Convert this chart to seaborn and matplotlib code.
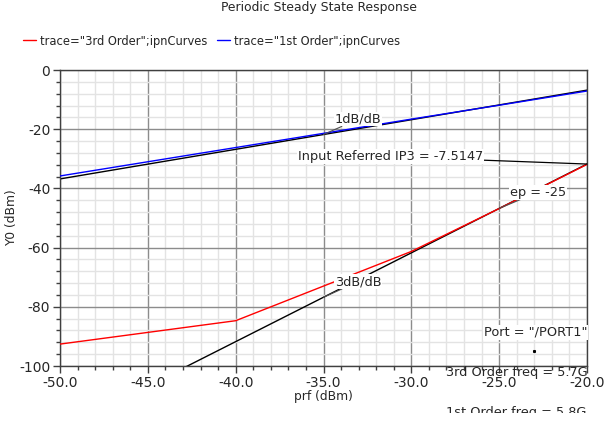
import numpy as np
import pandas as pd
import seaborn as sns
import matplotlib
matplotlib.use("Agg")
import matplotlib.pyplot as plt
from matplotlib.ticker import MultipleLocator, FormatStrFormatter
from matplotlib.transforms import Bbox, TransformedBbox

# Swept input power and simulated output power of the two tones
prf = [-50.0, -40.0, -30.0, -25.0, -20.0]
third_order = [-92.6, -84.7, -61.3, -46.8, -31.9]
first_order = [-35.8, -26.2, -16.6, -11.9, -7.1]

# Extrapolation point and intercept reported by the IP3 calculator
ep = -25.0
ip3 = -7.5147
ep_first = -11.8
ep_third = ep_first - 2 * (ip3 - ep)

trace_names = ['trace="3rd Order";ipnCurves', 'trace="1st Order";ipnCurves']
trace_colors = ["#ff0000", "#0000ff"]

sns.set_style("white")
plt.rcParams["font.family"] = ["DejaVu Sans"]
plt.rcParams["axes.unicode_minus"] = False

fig = plt.figure(figsize=(6.04, 4.23), dpi=100)
ax = fig.add_axes([60 / 604, 1 - 366 / 423, 527 / 604, 296 / 423])

df = pd.DataFrame({
    "prf": prf * 2,
    "Y0": third_order + first_order,
    "trace": [trace_names[0]] * len(prf) + [trace_names[1]] * len(prf),
})

# 1dB/dB and 3dB/dB extrapolation lines through the extrapolation point
x_ext = np.array([-50.0, -20.0])
lin1 = ep_first + (x_ext - ep)
lin3 = ep_third + 3 * (x_ext - ep)
sns.lineplot(x=x_ext, y=lin1, ax=ax, color="black", lw=1.0, zorder=2)
sns.lineplot(x=x_ext, y=lin3, ax=ax, color="black", lw=1.0, zorder=2)

sns.lineplot(data=df, x="prf", y="Y0", hue="trace", palette=trace_colors,
             ax=ax, lw=1.0, zorder=3, legend=False)

ax.set_xlim(-50, -20)
ax.set_ylim(-100, 0)

ax.xaxis.set_major_locator(MultipleLocator(5))
ax.xaxis.set_minor_locator(MultipleLocator(1))
ax.yaxis.set_major_locator(MultipleLocator(20))
ax.yaxis.set_minor_locator(MultipleLocator(4))
ax.xaxis.set_major_formatter(FormatStrFormatter("%.1f"))
ax.yaxis.set_major_formatter(FormatStrFormatter("%d"))

ax.grid(which="major", color="#8c8c8c", lw=1.0, zorder=0)
ax.grid(which="minor", color="#e3e3e3", lw=1.0, zorder=0)
ax.set_axisbelow(True)
for s in ax.spines.values():
    s.set_color("#404040")
    s.set_linewidth(1.0)
ax.tick_params(which="major", direction="out", length=5, width=1, color="#404040",
               labelsize=10, pad=2, bottom=True, left=True)
ax.tick_params(which="minor", direction="out", length=3, width=1, color="#404040",
               bottom=True, left=True)

ax.set_xlabel("prf (dBm)", fontsize=8.8, labelpad=0)
ax.set_ylabel("Y0 (dBm)", fontsize=8.8, labelpad=1)

fig.text(0.528, 1 - 8 / 423, "Periodic Steady State Response", ha="center",
         va="center", fontsize=8.9)

# Legend row above the plot
handles = [plt.Line2D([], [], color=c, lw=1.0) for c in trace_colors]
fig.legend(handles, trace_names, loc="center left", bbox_to_anchor=(0.038, 1 - 41 / 423),
           ncol=2, frameon=False, fontsize=8.3, handlelength=1.1, handletextpad=0.35,
           columnspacing=0.9, borderaxespad=0, borderpad=0)

box = dict(facecolor="white", edgecolor="none", pad=0.6)
fs = 9.3

# Slope labels with leaders
ax.annotate("1dB/dB", xy=(-35, -35 + ep_first - ep), xytext=(-34.35, -16.6),
            fontsize=fs, ha="left", va="center", bbox=box, zorder=5,
            arrowprops=dict(arrowstyle="-", color="#505050", lw=0.8,
                            shrinkA=0, shrinkB=0), annotation_clip=False)
ax.annotate("3dB/dB", xy=(-35, ep_third + 3 * (-35 - ep)), xytext=(-34.35, -71.5),
            fontsize=fs, ha="left", va="center", bbox=box, zorder=5,
            arrowprops=dict(arrowstyle="-", color="#505050", lw=0.8,
                            shrinkA=0, shrinkB=0), annotation_clip=False)
ax.annotate("ep = %g" % ep, xy=(ep, ep_third), xytext=(-24.4, -41.3),
            fontsize=fs, ha="left", va="center", bbox=box, zorder=5,
            arrowprops=dict(arrowstyle="-", color="#505050", lw=0.8,
                            shrinkA=0, shrinkB=0), annotation_clip=False)
ax.annotate("Input Referred IP3 = %.4f" % ip3, xy=(-20, ep_third + 3 * (-20 - ep)),
            xytext=(-25.9, -29.3), fontsize=fs, ha="right", va="center",
            bbox=box, zorder=5,
            arrowprops=dict(arrowstyle="-", color="black", lw=0.9,
                            shrinkA=0, shrinkB=0), annotation_clip=False)

ax.text(-20, -88.6, 'Port = "/PORT1"', fontsize=fs, ha="right", va="center",
        bbox=box, zorder=5)
ax.plot([-23.0], [-95.0], marker="s", ms=1.2, color="black", zorder=5)

# Frequency notes, clipped to the plot's right edge and the figure bottom
clip = TransformedBbox(Bbox([[0, 10 / 423], [587 / 604, 1]]), fig.transFigure)
for txt, yp, va in [("3rd Order freq = 5.7G", 372, "center"),
                    ("1st Order freq = 5.8G", 416, "baseline")]:
    t = fig.text(446 / 604, 1 - yp / 423, txt, fontsize=fs, ha="left", va=va,
                 zorder=6)
    t.set_clip_box(clip)
    t.set_clip_on(True)

fig.savefig("out.png", dpi=100)
